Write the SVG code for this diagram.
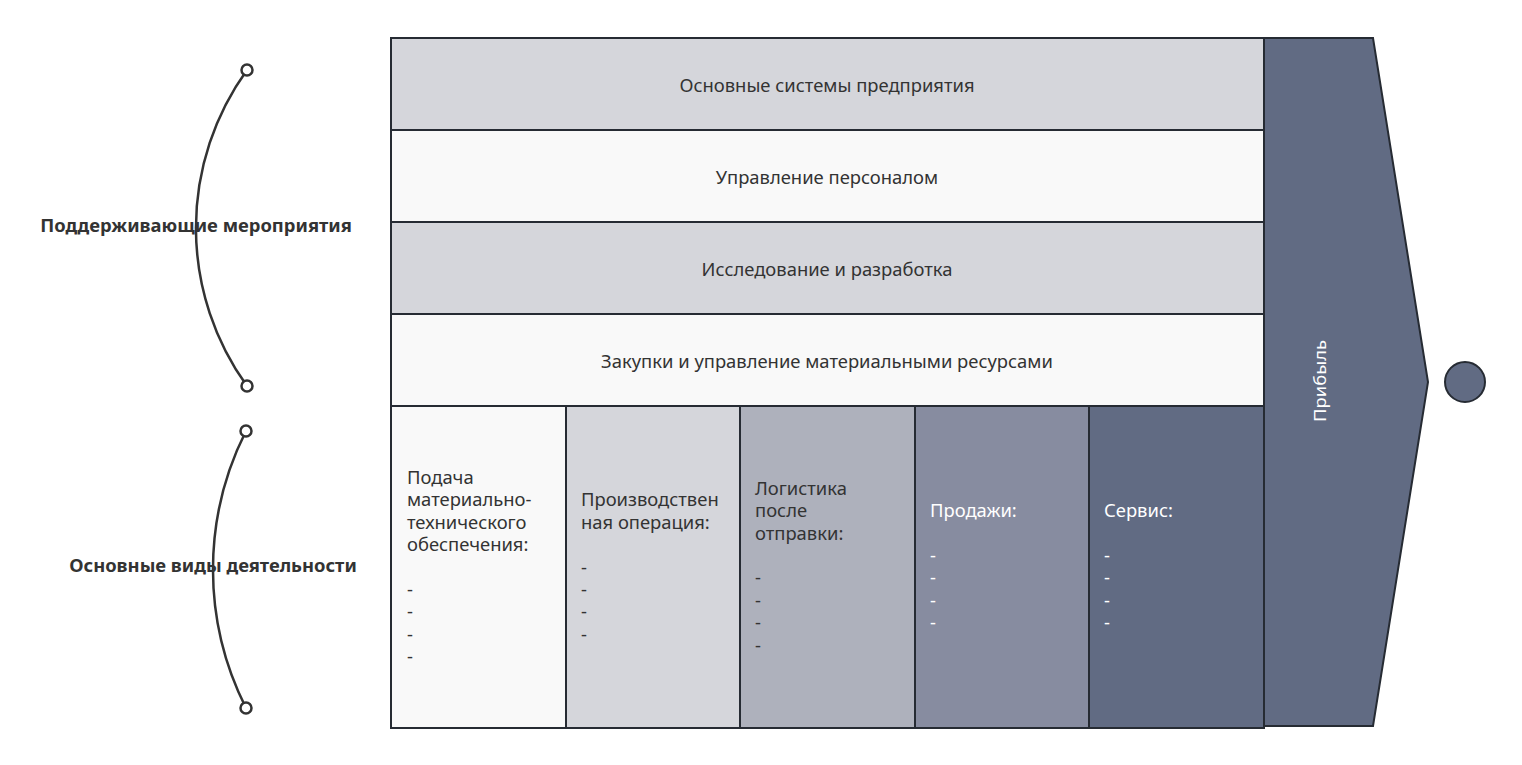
<svg xmlns="http://www.w3.org/2000/svg" width="1522" height="765" viewBox="0 0 1522 765">
<style>
.box{stroke:#262b33;stroke-width:2}
.t{font-family:"Noto Sans","Open Sans",sans-serif;font-size:18.4px;fill:#333}
.tw{font-family:"Noto Sans","Open Sans",sans-serif;font-size:18.4px;fill:#ffffff}
.c{text-anchor:middle;dominant-baseline:central}
.lbl{font-family:"Noto Sans","Open Sans",sans-serif;font-size:18.4px;font-weight:bold;fill:#333;text-anchor:middle;dominant-baseline:central}
.arc{fill:none;stroke:#333;stroke-width:2.5}
.end{fill:#fff;stroke:#333;stroke-width:2.5}
</style>
<rect width="1522" height="765" fill="#fff"/>
<g id="profit">
<path class="box" d="M1264,38 L1373,38 L1428,382 L1373,726 L1264,726 Z" fill="#616b83"/>
<text class="tw c" transform="translate(1319,381) rotate(-90)" style="font-size:17px" textLength="82" lengthAdjust="spacingAndGlyphs">Прибыль</text>
</g>
<g id="row1"><rect class="box" x="391" y="38" width="873" height="92" fill="#d5d6db"/><text class="t c" x="827" y="84">Основные системы предприятия</text></g>
<g id="row2"><rect class="box" x="391" y="130" width="873" height="92" fill="#f9f9f9"/><text class="t c" x="827" y="176">Управление персоналом</text></g>
<g id="row3"><rect class="box" x="391" y="222" width="873" height="92" fill="#d5d6db"/><text class="t c" x="827" y="268">Исследование и разработка</text></g>
<g id="row4"><rect class="box" x="391" y="314" width="873" height="92" fill="#f9f9f9"/><text class="t c" x="827" y="360">Закупки и управление материальными ресурсами</text></g>
<g id="col1"><rect class="box" x="391" y="406" width="175" height="322" fill="#f9f9f9"/>
<text class="t" x="407"><tspan x="407" y="484">Подача</tspan><tspan x="407" y="506">материально-</tspan><tspan x="407" y="529">технического</tspan><tspan x="407" y="551">обеспечения:</tspan><tspan x="407" y="596">-</tspan><tspan x="407" y="618">-</tspan><tspan x="407" y="641">-</tspan><tspan x="407" y="663">-</tspan></text></g>
<g id="col2"><rect class="box" x="566" y="406" width="174" height="322" fill="#d5d6db"/>
<text class="t" x="581"><tspan x="581" y="506">Производствен</tspan><tspan x="581" y="529">ная операция:</tspan><tspan x="581" y="574">-</tspan><tspan x="581" y="596">-</tspan><tspan x="581" y="618">-</tspan><tspan x="581" y="641">-</tspan></text></g>
<g id="col3"><rect class="box" x="740" y="406" width="175" height="322" fill="#aeb1bc"/>
<text class="t" x="755"><tspan x="755" y="495">Логистика</tspan><tspan x="755" y="517">после</tspan><tspan x="755" y="540">отправки:</tspan><tspan x="755" y="584">-</tspan><tspan x="755" y="607">-</tspan><tspan x="755" y="629">-</tspan><tspan x="755" y="652">-</tspan></text></g>
<g id="col4"><rect class="box" x="915" y="406" width="174" height="322" fill="#878ca0"/>
<text class="tw" x="930"><tspan x="930" y="517">Продажи:</tspan><tspan x="930" y="562">-</tspan><tspan x="930" y="584">-</tspan><tspan x="930" y="607">-</tspan><tspan x="930" y="629">-</tspan></text></g>
<g id="col5"><rect class="box" x="1089" y="406" width="175" height="322" fill="#616b83"/>
<text class="tw" x="1104"><tspan x="1104" y="517">Сервис:</tspan><tspan x="1104" y="562">-</tspan><tspan x="1104" y="584">-</tspan><tspan x="1104" y="607">-</tspan><tspan x="1104" y="629">-</tspan></text></g>
<g id="end-circle"><circle class="box" cx="1465" cy="382" r="20" fill="#616b83"/></g>
<g id="connectors">
<path class="arc" d="M247,70 A270,270 0 0 0 247,386"/>
<circle class="end" cx="247" cy="70" r="5.5"/>
<circle class="end" cx="247" cy="386" r="5.5"/>
<path class="arc" d="M246,431 A307,307 0 0 0 246,708"/>
<circle class="end" cx="246" cy="431" r="5.5"/>
<circle class="end" cx="246" cy="708" r="5.5"/>
</g>
<g id="label-support"><text class="lbl" x="196" y="224">Поддерживающие мероприятия</text></g>
<g id="label-primary"><text class="lbl" x="213" y="564">Основные виды деятельности</text></g>
</svg>
